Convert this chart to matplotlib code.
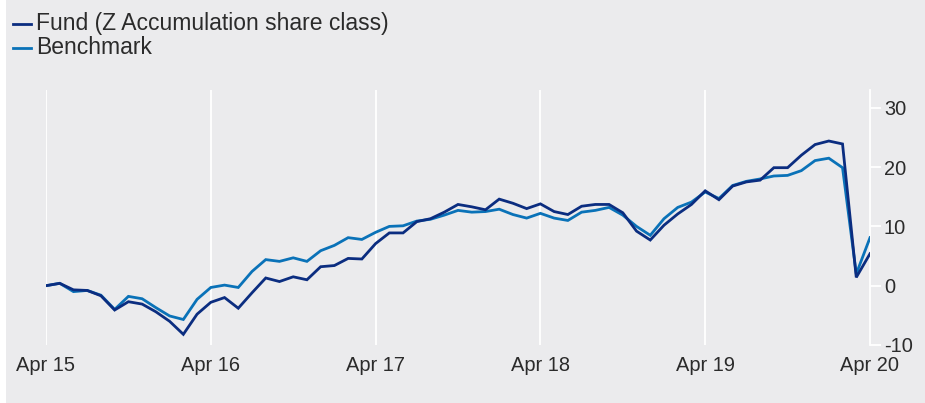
import matplotlib
matplotlib.use("Agg")
import matplotlib.pyplot as plt
from matplotlib.lines import Line2D
from matplotlib.patches import Rectangle

# Monthly cumulative performance (%), Apr 2015 - Apr 2020
fund = [0.0, 0.4, -0.7, -0.8, -1.7, -4.1, -2.7, -3.1, -4.4, -6.0, -8.2, -4.8,
        -2.8, -2.0, -3.8, -1.2, 1.3, 0.7, 1.5, 1.0, 3.2, 3.4, 4.6, 4.5,
        7.1, 8.9, 8.9, 10.8, 11.3, 12.4, 13.7, 13.3, 12.8, 14.6, 13.9, 13.0,
        13.8, 12.5, 12.0, 13.4, 13.7, 13.7, 12.3, 9.2, 7.7, 10.2, 12.1, 13.7,
        16.0, 14.5, 16.8, 17.5, 17.8, 19.9, 19.9, 22.0, 23.8, 24.4, 23.9, 1.4,
        5.4]
benchmark = [0.0, 0.4, -1.0, -0.8, -1.6, -4.0, -1.8, -2.2, -3.7, -5.1, -5.7, -2.3,
             -0.3, 0.1, -0.3, 2.4, 4.4, 4.1, 4.7, 4.1, 5.9, 6.8, 8.1, 7.8,
             9.0, 10.0, 10.1, 10.9, 11.2, 11.9, 12.7, 12.4, 12.5, 12.9, 12.0, 11.4,
             12.2, 11.4, 11.0, 12.4, 12.7, 13.2, 11.9, 10.0, 8.5, 11.3, 13.2, 14.1,
             15.8, 14.7, 16.9, 17.6, 18.0, 18.5, 18.6, 19.4, 21.1, 21.5, 19.9, 2.0,
             8.1]
months = list(range(len(fund)))
tick_pos = [0, 12, 24, 36, 48, 60]
tick_labels = ["Apr 15", "Apr 16", "Apr 17", "Apr 18", "Apr 19", "Apr 20"]
y_ticks = [-10, 0, 10, 20, 30]
series_names = ["Fund (Z Accumulation share class)", "Benchmark"]

fund_color = "#0b2d80"
bench_color = "#0a72b8"
bg = "#ebebed"
text_color = "#2b2b2b"

plt.rcParams["font.family"] = ["Liberation Sans", "DejaVu Sans"]
plt.rcParams["axes.unicode_minus"] = False

W, H = 925, 403
fig = plt.figure(figsize=(W / 100, H / 100), dpi=100)
fig.patch.set_facecolor("white")
fig.add_artist(Rectangle((6 / W, 0), 1 - 6 / W, 1, transform=fig.transFigure,
                         facecolor=bg, edgecolor="none", zorder=-10))

ax = fig.add_axes([46 / W, 1 - 345 / H, 824 / W, 255 / H])
ax.set_facecolor(bg)

ax.plot(months, benchmark, color=bench_color, lw=2.0, solid_joinstyle="miter", zorder=3)
ax.plot(months, fund, color=fund_color, lw=2.0, solid_joinstyle="miter", zorder=4)

ax.set_xlim(0, 60)
ax.set_ylim(-10, 33)

# vertical gridlines
for p in tick_pos[:-1]:
    ax.axvline(p, color="white", lw=1.3, zorder=1)

for s in ["top", "left", "bottom"]:
    ax.spines[s].set_visible(False)
ax.spines["right"].set_color("white")
ax.spines["right"].set_linewidth(1.3)

ax.yaxis.tick_right()
ax.set_yticks(y_ticks)
ax.tick_params(axis="y", length=8, width=1.3, color="white", pad=2,
               labelsize=14.4, labelcolor=text_color)
ax.set_xticks(tick_pos)
ax.set_xticklabels(tick_labels)
ax.tick_params(axis="x", length=0, pad=8, labelsize=14.4, labelcolor=text_color)

# legend drawn by hand
for i, (name, col) in enumerate(zip(series_names, [fund_color, bench_color])):
    yl = 24 + i * 23.5
    fig.add_artist(Line2D([13 / W, 31 / W], [1 - yl / H, 1 - yl / H],
                          transform=fig.transFigure, color=col, lw=2.0))
    fig.text(36 / W, 1 - (yl + 6) / H, name, fontsize=16.5, color=text_color,
             va="baseline", ha="left")

fig.savefig("out.png", dpi=100, facecolor=fig.get_facecolor())
